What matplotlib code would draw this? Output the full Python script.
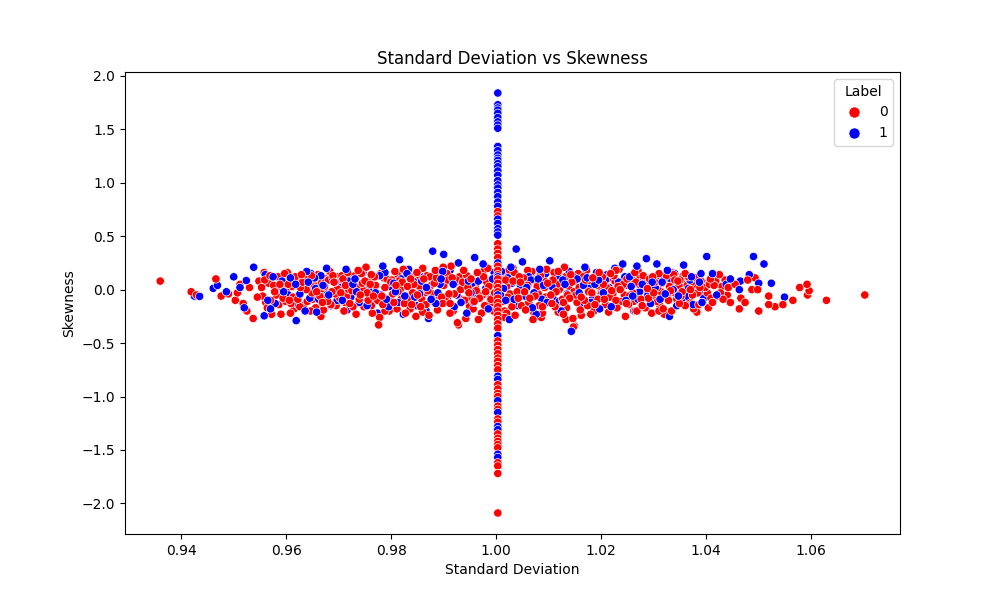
import numpy as np
import matplotlib
matplotlib.use("Agg")
import matplotlib.pyplot as plt
from matplotlib.lines import Line2D

# ---------------- data ----------------
# Label 0 (red) points in the horizontal band
red_x = [
    0.9360, 0.9419, 0.9429, 0.9466, 0.9476, 0.9503, 0.9507, 0.9525, 0.9537, 0.9558,
    0.9490, 0.9512, 0.9518, 0.9530, 0.9545, 0.9548,
    0.9553, 0.9561, 0.9567, 0.9572, 0.9578, 0.9584, 0.9590, 0.9594, 0.9597, 0.9564, 0.9581, 0.9588,
    0.9602, 0.9606, 0.9611, 0.9615, 0.9620, 0.9624, 0.9629, 0.9633, 0.9638, 0.9642, 0.9646, 0.9649, 0.9613, 0.9631,
    0.9652, 0.9656, 0.9660, 0.9664, 0.9668, 0.9671, 0.9675, 0.9679, 0.9683, 0.9687, 0.9691, 0.9695, 0.9698, 0.9666,
    0.9702, 0.9706, 0.9710, 0.9713, 0.9717, 0.9721, 0.9725, 0.9729, 0.9733, 0.9737, 0.9741, 0.9745, 0.9748, 0.9719, 0.9735,
    0.9752, 0.9756, 0.9760, 0.9764, 0.9768, 0.9772, 0.9776, 0.9780, 0.9784, 0.9788, 0.9792, 0.9796, 0.9799, 0.9778, 0.9766,
    0.9803, 0.9807, 0.9811, 0.9815, 0.9819, 0.9823, 0.9827, 0.9831, 0.9835, 0.9839, 0.9843, 0.9847, 0.9849, 0.9817, 0.9829,
    0.9852, 0.9856, 0.9860, 0.9864, 0.9868, 0.9872, 0.9876, 0.9880, 0.9884, 0.9888, 0.9892, 0.9896, 0.9899, 0.9870, 0.9886,
    0.9902, 0.9906, 0.9910, 0.9914, 0.9918, 0.9922, 0.9926, 0.9930, 0.9934, 0.9938, 0.9942, 0.9946, 0.9949, 0.9928, 0.9924,
    0.9952, 0.9956, 0.9960, 0.9964, 0.9968, 0.9972, 0.9976, 0.9980, 0.9984, 0.9988, 0.9992, 0.9995, 0.9998, 0.9966, 0.9982,
    1.0008, 1.0012, 1.0016, 1.0020, 1.0024, 1.0028, 1.0032, 1.0036, 1.0040, 1.0044, 1.0048, 1.0006, 1.0022, 1.0034, 1.0046,
    1.0052, 1.0056, 1.0060, 1.0064, 1.0068, 1.0072, 1.0076, 1.0080, 1.0084, 1.0088, 1.0092, 1.0096, 1.0099, 1.0070, 1.0086,
    1.0102, 1.0106, 1.0110, 1.0114, 1.0118, 1.0122, 1.0126, 1.0130, 1.0134, 1.0138, 1.0142, 1.0146, 1.0149, 1.0120, 1.0136,
    1.0152, 1.0156, 1.0160, 1.0164, 1.0168, 1.0172, 1.0176, 1.0180, 1.0184, 1.0188, 1.0192, 1.0196, 1.0199, 1.0170, 1.0186,
    1.0202, 1.0206, 1.0210, 1.0214, 1.0218, 1.0222, 1.0226, 1.0230, 1.0234, 1.0238, 1.0242, 1.0246, 1.0249, 1.0220, 1.0236,
    1.0252, 1.0256, 1.0260, 1.0264, 1.0268, 1.0272, 1.0276, 1.0280, 1.0284, 1.0288, 1.0292, 1.0296, 1.0299, 1.0270, 1.0286,
    1.0302, 1.0306, 1.0310, 1.0314, 1.0318, 1.0322, 1.0326, 1.0330, 1.0334, 1.0338, 1.0342, 1.0346, 1.0349, 1.0320, 1.0336,
    1.0352, 1.0356, 1.0360, 1.0364, 1.0368, 1.0372, 1.0376, 1.0380, 1.0384, 1.0388, 1.0392, 1.0396, 1.0370, 1.0382,
    1.0408, 1.0425, 1.0436, 1.0442, 1.0427, 1.0409, 1.0404, 1.0446, 1.0466, 1.0479, 1.0487, 1.0493, 1.0474, 1.0463,
    1.0500, 1.0498, 1.0519, 1.0519, 1.0531, 1.0546, 1.0565, 1.0578, 1.0592, 1.0596, 1.0593, 1.0629, 1.0702,
    1.0415, 1.0432, 1.0455, 1.0133, 1.0147,
    # denser core
    0.9555, 0.9559, 0.9570, 0.9576, 0.9586, 0.9592, 0.9599, 0.9569,
    0.9600, 0.9604, 0.9609, 0.9617, 0.9622, 0.9627, 0.9635, 0.9640, 0.9644, 0.9648, 0.9608, 0.9626,
    0.9650, 0.9654, 0.9658, 0.9662, 0.9669, 0.9673, 0.9677, 0.9681, 0.9685, 0.9689, 0.9693, 0.9697,
    0.9700, 0.9704, 0.9708, 0.9712, 0.9715, 0.9723, 0.9727, 0.9731, 0.9739, 0.9743, 0.9747, 0.9750,
    0.9754, 0.9758, 0.9762, 0.9770, 0.9774, 0.9782, 0.9786, 0.9790, 0.9794, 0.9798, 0.9762, 0.9788,
    0.9801, 0.9805, 0.9809, 0.9813, 0.9821, 0.9825, 0.9833, 0.9837, 0.9841, 0.9845, 0.9812, 0.9836,
    0.9850, 0.9854, 0.9858, 0.9862, 0.9866, 0.9874, 0.9878, 0.9882, 0.9890, 0.9894, 0.9898, 0.9860,
    0.9900, 0.9904, 0.9908, 0.9912, 0.9916, 0.9920, 0.9932, 0.9936, 0.9940, 0.9944, 0.9948, 0.9912,
    0.9950, 0.9954, 0.9958, 0.9962, 0.9970, 0.9974, 0.9978, 0.9986, 0.9990, 0.9994, 0.9997, 0.9978,
    1.0010, 1.0014, 1.0018, 1.0026, 1.0030, 1.0038, 1.0042, 1.0046, 1.0050, 1.0020, 1.0032, 1.0016,
    1.0054, 1.0058, 1.0062, 1.0066, 1.0074, 1.0078, 1.0082, 1.0090, 1.0094, 1.0098, 1.0060, 1.0088,
    1.0104, 1.0108, 1.0112, 1.0116, 1.0124, 1.0128, 1.0132, 1.0140, 1.0144, 1.0148, 1.0118, 1.0128,
    1.0150, 1.0154, 1.0158, 1.0162, 1.0166, 1.0174, 1.0178, 1.0182, 1.0190, 1.0194, 1.0198, 1.0162,
    1.0200, 1.0204, 1.0208, 1.0212, 1.0216, 1.0224, 1.0228, 1.0232, 1.0240, 1.0244, 1.0248, 1.0228,
    1.0250, 1.0254, 1.0258, 1.0262, 1.0266, 1.0274, 1.0278, 1.0282, 1.0290, 1.0294, 1.0298, 1.0262,
    1.0300, 1.0304, 1.0308, 1.0312, 1.0316, 1.0324, 1.0328, 1.0332, 1.0340, 1.0344, 1.0348, 1.0310,
    1.0350, 1.0354, 1.0358, 1.0362, 1.0366, 1.0374, 1.0378, 1.0386, 1.0390, 1.0394, 1.0398, 1.0360,
    1.0402, 1.0406, 1.0412, 1.0418, 1.0422, 1.0430, 1.0440, 1.0448, 1.0416,
]
red_y = [
    0.08, -0.02, -0.05, 0.10, -0.06, -0.10, -0.03, -0.20, -0.27, 0.16,
    -0.04, 0.05, -0.13, 0.02, -0.07, 0.08,
    0.02, -0.12, 0.06, -0.23, -0.02, 0.12, -0.23, -0.08, 0.15, -0.17, -0.05, 0.05,
    0.16, -0.10, 0.03, -0.18, 0.11, -0.05, 0.14, -0.15, 0.00, 0.08, -0.20, -0.03, -0.07, 0.07,
    0.05, -0.17, 0.14, -0.06, 0.01, -0.19, 0.10, -0.11, 0.17, -0.02, 0.07, -0.15, 0.12, -0.25,
    -0.08, 0.13, -0.20, 0.04, 0.16, -0.13, -0.01, 0.09, -0.23, 0.18, -0.05, 0.06, -0.16, 0.00, 0.02,
    0.21, -0.10, 0.05, -0.22, 0.12, -0.03, -0.33, 0.15, -0.14, 0.02, 0.10, -0.20, 0.07, -0.26, -0.06,
    -0.04, 0.17, -0.18, 0.08, -0.09, 0.19, -0.22, 0.03, 0.12, -0.14, 0.05, -0.25, 0.16, 0.00, -0.06,
    0.09, -0.16, 0.20, -0.03, 0.13, -0.24, 0.04, -0.11, 0.18, -0.19, 0.07, -0.07, 0.21, -0.01, 0.11,
    -0.12, 0.15, -0.04, 0.22, -0.20, 0.06, -0.31, 0.12, -0.09, 0.18, -0.27, 0.02, -0.15, -0.33, 0.09,
    0.10, -0.18, 0.03, 0.16, -0.08, -0.22, 0.12, -0.02, 0.20, -0.13, 0.06, -0.20, 0.14, -0.28, 0.07,
    -0.07, 0.14, -0.20, 0.03, 0.18, -0.12, 0.08, -0.24, -0.02, 0.12, -0.15, 0.05, -0.07, 0.16, 0.01,
    0.11, -0.19, 0.04, -0.08, 0.17, -0.22, 0.08, -0.04, 0.13, -0.16, 0.02, 0.19, -0.10, -0.28, -0.26,
    0.06, -0.13, 0.16, -0.02, -0.21, 0.10, -0.09, 0.21, -0.17, 0.03, 0.14, -0.27, -0.34, 0.00, -0.05,
    -0.05, 0.15, -0.19, 0.07, -0.10, 0.18, -0.02, -0.23, 0.11, -0.14, 0.04, 0.16, -0.08, 0.09, -0.20,
    0.12, -0.09, 0.02, -0.21, 0.15, -0.04, 0.08, -0.17, 0.19, -0.11, 0.05, -0.25, 0.10, -0.01, 0.00,
    -0.14, 0.09, -0.03, 0.16, -0.20, 0.05, -0.09, 0.13, -0.17, 0.01, 0.10, -0.22, -0.05, 0.18, -0.01,
    0.07, -0.11, 0.15, -0.02, -0.18, 0.10, -0.07, 0.03, -0.20, 0.14, -0.04, 0.08, -0.13, -0.23, 0.16,
    -0.06, 0.13, -0.15, 0.04, -0.10, 0.07, -0.18, 0.11, -0.03, 0.02, -0.12, 0.06, 0.00, -0.21,
    0.10, 0.14, 0.09, 0.02, -0.03, -0.08, -0.17, -0.12, -0.08, 0.09, 0.00, 0.11, -0.12, -0.18,
    -0.20, 0.00, -0.06, -0.14, -0.16, -0.14, -0.10, 0.02, 0.05, -0.01, -0.05, -0.10, -0.05,
    0.04, -0.09, 0.05, -0.28, -0.35,
    # denser core
    -0.06, 0.09, -0.10, 0.04, -0.14, 0.01, -0.11, 0.13,
    -0.02, 0.05, -0.13, 0.12, -0.09, 0.02, 0.10, -0.11, 0.04, 0.13, -0.22, -0.16,
    -0.09, 0.10, -0.02, 0.06, -0.12, 0.03, -0.07, 0.09, -0.14, 0.13, -0.04, 0.01,
    0.06, -0.03, 0.10, -0.12, -0.06, 0.11, -0.16, 0.13, -0.09, 0.15, -0.01, 0.08,
    -0.03, 0.08, -0.15, 0.04, -0.10, -0.06, 0.11, -0.12, 0.03, -0.08, 0.14, -0.20,
    0.09, -0.12, 0.04, -0.02, 0.07, -0.13, -0.08, 0.10, -0.03, 0.13, 0.14, -0.18,
    -0.05, 0.03, -0.09, 0.10, -0.14, 0.12, -0.04, 0.06, -0.08, 0.15, -0.13, -0.21,
    0.04, -0.07, 0.09, -0.13, 0.11, -0.04, 0.00, 0.07, -0.10, 0.13, -0.03, -0.22,
    -0.07, 0.05, -0.11, -0.01, 0.09, -0.05, -0.15, 0.03, -0.09, 0.11, -0.03, 0.19,
    0.02, -0.11, 0.09, -0.04, -0.16, 0.11, -0.08, 0.07, -0.03, -0.22, 0.20, -0.26,
    -0.02, 0.08, -0.12, 0.14, -0.06, 0.03, -0.15, 0.10, -0.07, 0.06, 0.18, -0.22,
    -0.05, 0.09, -0.16, 0.05, 0.03, -0.12, 0.12, -0.08, 0.07, -0.02, 0.17, -0.23,
    0.08, -0.12, 0.02, -0.07, 0.12, -0.15, 0.05, -0.03, 0.11, -0.09, 0.02, -0.24,
    -0.04, 0.05, -0.14, 0.10, -0.07, 0.13, -0.10, 0.03, 0.08, -0.05, -0.13, 0.18,
    0.04, -0.06, 0.13, -0.11, 0.07, 0.12, -0.15, 0.06, -0.08, 0.04, 0.12, -0.20,
    -0.03, 0.12, 0.02, -0.15, 0.06, 0.13, -0.10, -0.01, 0.09, -0.09, 0.04, -0.20,
    0.09, -0.02, 0.05, -0.08, 0.12, -0.05, 0.03, -0.14, 0.08, -0.06, 0.02, 0.15,
    -0.03, 0.05, -0.12, 0.08, -0.06, 0.03, -0.05, 0.05, 0.12,
]

# Label 1 (blue) points in the horizontal band
blue_x = [
    0.9425, 0.9435, 0.9461, 0.9469, 0.9486, 0.9500, 0.9538, 0.9524, 0.9520, 0.9558, 0.9619, 0.9512,
    0.9556, 0.9565, 0.9575, 0.9583, 0.9592, 0.9570,
    0.9604, 0.9612, 0.9622, 0.9630, 0.9639, 0.9645, 0.9618, 0.9636,
    0.9654, 0.9662, 0.9670, 0.9677, 0.9685, 0.9693, 0.9673, 0.9658,
    0.9704, 0.9711, 0.9716, 0.9723, 0.9731, 0.9739, 0.9746, 0.9727,
    0.9754, 0.9762, 0.9770, 0.9778, 0.9784, 0.9791, 0.9797, 0.9774,
    0.9805, 0.9813, 0.9816, 0.9823, 0.9830, 0.9838, 0.9845, 0.9833,
    0.9854, 0.9862, 0.9871, 0.9879, 0.9885, 0.9893, 0.9898, 0.9866,
    0.9900, 0.9907, 0.9915, 0.9920, 0.9928, 0.9936, 0.9944, 0.9912,
    0.9954, 0.9959, 0.9957, 0.9963, 0.9970, 0.9975, 0.9985, 0.9993,
    1.0010, 1.0018, 1.0025, 1.0030, 1.0038, 1.0042, 1.0050, 1.0014,
    1.0055, 1.0062, 1.0069, 1.0076, 1.0083, 1.0090, 1.0097, 1.0066,
    1.0102, 1.0108, 1.0116, 1.0124, 1.0131, 1.0139, 1.0143, 1.0112,
    1.0154, 1.0162, 1.0169, 1.0177, 1.0184, 1.0191, 1.0197, 1.0166,
    1.0204, 1.0211, 1.0219, 1.0226, 1.0233, 1.0241, 1.0247, 1.0215,
    1.0254, 1.0260, 1.0265, 1.0268, 1.0278, 1.0286, 1.0294, 1.0273,
    1.0306, 1.0312, 1.0319, 1.0326, 1.0330, 1.0337, 1.0344, 1.0316,
    1.0357, 1.0362, 1.0369, 1.0375, 1.0383, 1.0390, 1.0395, 1.0366,
    1.0401, 1.0490, 1.0510, 1.0524, 1.0549, 1.0465, 1.0482, 1.0500, 1.0463, 1.0446, 1.0392, 1.0420, 1.0438, 1.0412,
    # denser core
    0.9560, 0.9579, 0.9595,
    0.9608, 0.9626, 0.9642, 0.9615, 0.9647,
    0.9656, 0.9666, 0.9681, 0.9689, 0.9697,
    0.9707, 0.9719, 0.9734, 0.9742, 0.9714,
    0.9757, 0.9766, 0.9781, 0.9788, 0.9795,
    0.9808, 0.9819, 0.9826, 0.9842, 0.9848,
    0.9858, 0.9867, 0.9876, 0.9889, 0.9895,
    0.9903, 0.9918, 0.9925, 0.9933, 0.9947,
    0.9952, 0.9966, 0.9980, 0.9989, 0.9996,
    1.0008, 1.0022, 1.0034, 1.0046, 1.0028,
    1.0058, 1.0072, 1.0080, 1.0087, 1.0094,
    1.0106, 1.0120, 1.0127, 1.0135, 1.0147,
    1.0158, 1.0173, 1.0181, 1.0188, 1.0195,
    1.0208, 1.0222, 1.0230, 1.0237, 1.0245,
    1.0257, 1.0270, 1.0281, 1.0289, 1.0297,
    1.0303, 1.0322, 1.0333, 1.0340, 1.0347,
    1.0353, 1.0372, 1.0380, 1.0387, 1.0398,
]
blue_y = [
    -0.06, -0.063, 0.012, 0.04, -0.02, 0.12, 0.21, 0.085, -0.17, -0.245, -0.29, 0.02,
    0.05, -0.10, 0.12, -0.04, 0.08, -0.18,
    -0.05, 0.09, -0.14, 0.02, 0.17, -0.08, 0.05, -0.20,
    0.11, -0.09, 0.04, 0.20, -0.15, 0.07, -0.03, -0.21,
    0.02, 0.14, -0.19, -0.07, 0.10, -0.12, 0.16, 0.05,
    -0.15, 0.08, -0.03, 0.13, 0.22, -0.09, 0.03, -0.22,
    0.06, -0.12, 0.28, -0.23, 0.15, 0.01, -0.07, 0.19,
    -0.04, 0.12, -0.27, 0.36, -0.13, 0.05, 0.17, -0.19,
    0.33, -0.08, 0.10, -0.16, 0.25, 0.03, -0.22, 0.18,
    0.06, 0.30, -0.12, -0.05, 0.15, 0.24, -0.18, 0.10,
    0.17, -0.10, -0.28, 0.06, 0.38, -0.15, 0.26, 0.01,
    -0.06, 0.12, -0.17, -0.23, 0.19, 0.04, -0.12, 0.09,
    0.27, -0.08, 0.13, -0.20, 0.05, 0.17, -0.39, -0.02,
    0.10, -0.14, 0.21, 0.01, -0.07, 0.16, -0.18, 0.04,
    -0.03, 0.14, -0.16, 0.20, 0.07, 0.24, -0.10, 0.02,
    0.12, -0.06, -0.20, 0.22, 0.05, 0.29, -0.13, -0.02,
    0.24, -0.09, 0.11, 0.18, -0.25, 0.00, -0.15, 0.07,
    0.23, -0.06, 0.09, -0.14, 0.04, 0.15, -0.08, 0.01,
    0.31, 0.31, 0.24, 0.06, -0.07, 0.08, 0.14, 0.06, 0.00, 0.10, -0.12, -0.05, 0.05, 0.15,
    # denser core
    0.14, -0.13, -0.02,
    0.11, -0.04, 0.07, -0.12, 0.15,
    0.01, 0.13, -0.05, 0.10, -0.10,
    -0.10, 0.08, -0.02, 0.04, 0.19,
    0.01, -0.11, -0.05, 0.16, -0.16,
    -0.02, 0.10, -0.06, 0.08, -0.15,
    0.08, 0.02, -0.09, -0.03, 0.10,
    0.13, 0.05, -0.05, -0.12, 0.08,
    -0.03, 0.08, 0.01, -0.08, 0.16,
    -0.05, 0.11, -0.09, 0.04, 0.21,
    0.02, -0.03, 0.10, -0.09, 0.15,
    0.03, -0.11, 0.09, -0.04, 0.12,
    -0.03, 0.11, -0.12, 0.05, 0.09,
    0.09, -0.06, -0.12, 0.01, 0.12,
    0.03, -0.09, 0.09, -0.05, 0.07,
    0.02, -0.04, 0.10, 0.15, -0.06,
    -0.11, 0.12, -0.03, 0.07, -0.01,
]

# Points sitting on the vertical line (standard deviation ~ 1.0003)
vline_sd = 1.0003
vline_blue_y = [
    1.84, 1.73, 1.70, 1.68, 1.65, 1.61, 1.57, 1.54, 1.51,
    1.34, 1.30, 1.26, 1.23, 1.21, 1.18, 1.15, 1.11, 1.07, 1.02, 0.98, 0.95, 0.91, 0.87, 0.82, 0.78,
    0.66, 0.62, 0.57, 0.54, 0.51, 0.25, 0.12, -0.05,
    -0.43, -0.81, -0.84, -1.04, -1.15, -1.28, -1.31, -1.54, -1.57,
]
vline_red_y = [
    0.73, 0.69, 0.43, 0.38, 0.34, 0.30, 0.22, 0.18, 0.14, 0.10, 0.06, 0.02,
    -0.02, -0.08, -0.12, -0.16, -0.20, -0.24, -0.28, -0.32, -0.36,
    -0.48, -0.52, -0.56, -0.60, -0.64, -0.67, -0.71, -0.75, -0.89, -0.93, -0.97, -1.00,
    -1.09, -1.12, -1.21, -1.24, -1.35, -1.39, -1.42, -1.45, -1.48, -1.62, -1.65, -1.72, -2.09,
]

labels = ["0", "1"]
palette = {0: "red", 1: "blue"}

# ---------------- assemble in a mixed drawing order ----------------
bx = np.array(red_x + blue_x)
by = np.array(red_y + blue_y)
blab = np.array([0] * len(red_x) + [1] * len(blue_x))
# deterministic mixing of the drawing order (draw order only, data unchanged)
draw_key = (np.round(bx * 10000).astype(int) * 37 + np.round(by * 100).astype(int) * 11) % 101
order = np.argsort(draw_key, kind="stable")
bx, by, blab = bx[order], by[order], blab[order]

vy = np.array(vline_blue_y + vline_red_y)
vlab = np.array([1] * len(vline_blue_y) + [0] * len(vline_red_y))
vorder = np.argsort(-vy, kind="stable")
vy, vlab = vy[vorder], vlab[vorder]
vx = np.full(len(vy), vline_sd)

all_x = np.concatenate([bx, vx])
all_y = np.concatenate([by, vy])
all_lab = np.concatenate([blab, vlab])
colors = [palette[int(l)] for l in all_lab]

# ---------------- plot ----------------
fig, ax = plt.subplots(figsize=(10, 6), dpi=100)
ax.scatter(all_x, all_y, c=colors, s=36, edgecolors="white", linewidths=0.5)

ax.set_title("Standard Deviation vs Skewness")
ax.set_xlabel("Standard Deviation")
ax.set_ylabel("Skewness")

handles = [Line2D([0], [0], marker="o", linestyle="", markerfacecolor=palette[i],
                  markeredgecolor="white", markeredgewidth=0.5, markersize=8, label=labels[i])
           for i in range(2)]
ax.legend(handles=handles, title="Label", loc="upper right")

fig.savefig("out.png", dpi=100)
